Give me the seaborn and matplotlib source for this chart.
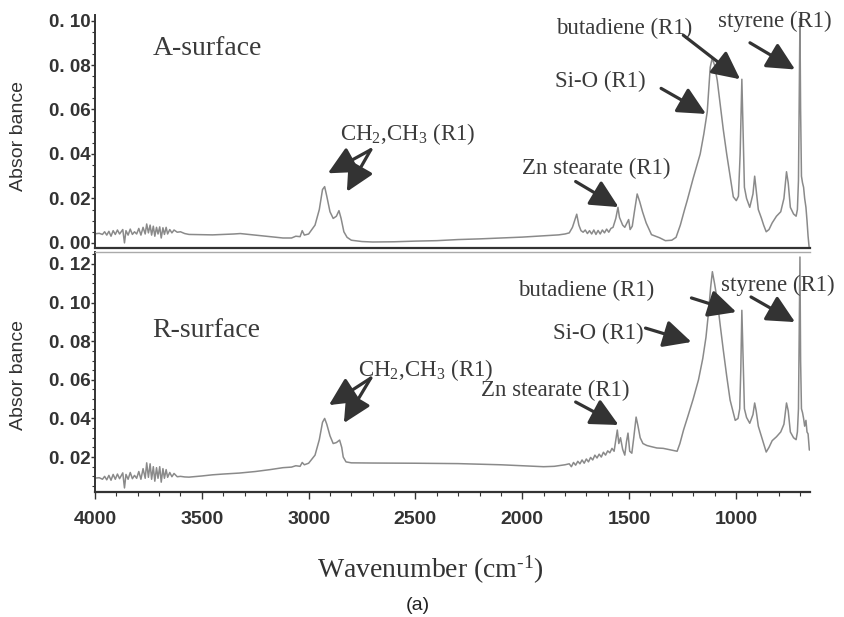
import matplotlib
matplotlib.use("Agg")
import matplotlib.pyplot as plt
import seaborn as sns
import pandas as pd
from matplotlib.ticker import MultipleLocator, FuncFormatter

# ---------------- data ----------------
# (wavenumber cm-1, absorbance) pairs, A-surface
spec_a = [
    (4000, .0041), (3980, .0043), (3965, .0038), (3955, .0050), (3945, .0035), (3935, .0052),
    (3925, .0030), (3915, .0055), (3905, .0038), (3895, .0058), (3885, .0040), (3870, .0060),
    (3862, .0000), (3855, .0055), (3845, .0035), (3835, .0062), (3825, .0038), (3815, .0050),
    (3805, .0040), (3795, .0065), (3785, .0035), (3775, .0070), (3765, .0040), (3758, .0085),
    (3750, .0045), (3742, .0080), (3735, .0035), (3727, .0075), (3720, .0030), (3712, .0070),
    (3705, .0040), (3697, .0072), (3690, .0022), (3682, .0068), (3675, .0038), (3667, .0070),
    (3660, .0040), (3650, .0060), (3640, .0045), (3630, .0058), (3615, .0048), (3600, .0050),
    (3580, .0042), (3560, .0038), (3500, .0037), (3450, .0036), (3400, .0038), (3350, .0040),
    (3320, .0042), (3280, .0038), (3200, .0030), (3120, .0022), (3080, .0022), (3060, .0030),
    (3040, .0028), (3030, .0055), (3020, .0035), (3000, .0040), (2970, .0080), (2950, .0150),
    (2935, .0240), (2925, .0253), (2915, .0210), (2900, .0140), (2885, .0110), (2870, .0120),
    (2858, .0145), (2848, .0110), (2835, .0050), (2820, .0025), (2800, .0012), (2750, .0006),
    (2700, .0004), (2600, .0005), (2500, .0008), (2400, .0010), (2300, .0015), (2200, .0018),
    (2100, .0022), (2000, .0026), (1900, .0032), (1830, .0036), (1800, .0040), (1780, .0045),
    (1765, .0070), (1745, .0129), (1735, .0080), (1725, .0055), (1715, .0048), (1705, .0058),
    (1695, .0042), (1685, .0055), (1675, .0040), (1665, .0058), (1655, .0038), (1645, .0056),
    (1635, .0040), (1625, .0058), (1615, .0045), (1605, .0062), (1595, .0048), (1585, .0065),
    (1575, .0070), (1562, .0110), (1552, .0160), (1545, .0115), (1530, .0080), (1520, .0070),
    (1502, .0105), (1495, .0060), (1485, .0075), (1475, .0140), (1462, .0220), (1450, .0185),
    (1437, .0140), (1420, .0090), (1395, .0037), (1357, .0023), (1330, .0010), (1300, .0012),
    (1280, .0025), (1260, .0080), (1240, .0150), (1228, .0190), (1200, .0290), (1167, .0400),
    (1150, .0490), (1134, .0590), (1120, .0790), (1111, .0830), (1100, .0800), (1087, .0730),
    (1073, .0620), (1059, .0510), (1043, .0400), (1027, .0300), (1012, .0207), (998, .0190),
    (988, .0210), (980, .0400), (972, .0736), (966, .0500), (960, .0250), (950, .0200),
    (935, .0160), (920, .0220), (912, .0300), (905, .0240), (895, .0150), (880, .0110),
    (870, .0080), (858, .0050), (845, .0060), (830, .0090), (810, .0120), (790, .0140),
    (775, .0200), (763, .0320), (755, .0270), (745, .0160), (730, .0130), (718, .0120),
    (712, .0150), (707, .0280), (704, .0600), (700, .1010), (697, .0600), (693, .0300),
    (688, .0270), (683, .0250), (678, .0200), (672, .0160), (667, .0100), (662, .0030),
    (656, -.0030),
]

# (wavenumber cm-1, absorbance) pairs, R-surface
spec_r = [
    (4000, .0091), (3980, .0093), (3965, .0085), (3955, .0100), (3945, .0082), (3935, .0105),
    (3925, .0080), (3915, .0110), (3905, .0085), (3895, .0112), (3885, .0088), (3870, .0118),
    (3862, .0040), (3855, .0110), (3845, .0085), (3835, .0120), (3825, .0088), (3815, .0105),
    (3805, .0090), (3795, .0125), (3785, .0085), (3775, .0140), (3765, .0090), (3758, .0170),
    (3750, .0095), (3742, .0165), (3735, .0085), (3727, .0150), (3720, .0075), (3712, .0145),
    (3705, .0090), (3697, .0150), (3690, .0070), (3682, .0140), (3675, .0090), (3667, .0135),
    (3660, .0095), (3650, .0120), (3640, .0098), (3630, .0115), (3615, .0098), (3600, .0100),
    (3580, .0097), (3560, .0096), (3500, .0102), (3450, .0108), (3400, .0112), (3325, .0117),
    (3250, .0125), (3180, .0135), (3120, .0145), (3080, .0148), (3060, .0155), (3040, .0152),
    (3030, .0172), (3020, .0160), (3000, .0168), (2970, .0210), (2950, .0290), (2935, .0380),
    (2925, .0400), (2915, .0370), (2900, .0310), (2885, .0270), (2870, .0275), (2855, .0288),
    (2845, .0250), (2838, .0200), (2825, .0175), (2800, .0170), (2700, .0169), (2500, .0168),
    (2300, .0166), (2100, .0160), (2000, .0155), (1900, .0150), (1850, .0152), (1800, .0160),
    (1780, .0165), (1770, .0150), (1760, .0172), (1750, .0158), (1740, .0178), (1730, .0165),
    (1720, .0185), (1710, .0168), (1700, .0190), (1690, .0175), (1680, .0198), (1670, .0185),
    (1660, .0210), (1650, .0195), (1640, .0215), (1630, .0200), (1620, .0225), (1610, .0210),
    (1600, .0232), (1590, .0222), (1580, .0245), (1570, .0230), (1562, .0290), (1555, .0340),
    (1548, .0270), (1540, .0300), (1530, .0240), (1520, .0210), (1512, .0280), (1505, .0324),
    (1497, .0230), (1487, .0220), (1478, .0300), (1467, .0407), (1458, .0360), (1448, .0300),
    (1435, .0270), (1417, .0260), (1400, .0255), (1370, .0247), (1340, .0245), (1310, .0238),
    (1275, .0230), (1262, .0270), (1245, .0340), (1225, .0410), (1200, .0500), (1175, .0600),
    (1155, .0710), (1140, .0820), (1128, .0950), (1118, .1080), (1110, .1160), (1100, .1100),
    (1087, .1010), (1073, .0880), (1059, .0755), (1043, .0620), (1027, .0495), (1012, .0430),
    (1003, .0390), (990, .0400), (982, .0450), (977, .0650), (972, .0960), (966, .0700),
    (960, .0450), (950, .0405), (935, .0375), (920, .0420), (912, .0480), (905, .0440),
    (895, .0360), (880, .0305), (870, .0270), (858, .0226), (845, .0250), (830, .0285),
    (810, .0305), (790, .0330), (775, .0370), (763, .0480), (755, .0440), (745, .0330),
    (730, .0300), (718, .0290), (712, .0330), (707, .0450), (704, .0800), (700, .1236),
    (697, .0700), (693, .0450), (688, .0430), (683, .0400), (678, .0360), (672, .0390),
    (667, .0330), (662, .0320), (656, .0236),
]

yticks_a = [0.00, 0.02, 0.04, 0.06, 0.08, 0.10]
yticks_r = [0.02, 0.04, 0.06, 0.08, 0.10, 0.12]
xticks = [4000, 3500, 3000, 2500, 2000, 1500, 1000]

df_a = pd.DataFrame(spec_a, columns=["wn", "abs"])
df_r = pd.DataFrame(spec_r, columns=["wn", "abs"])

# ---------------- style ----------------
sns.set_style("ticks")
plt.rcParams["font.family"] = ["Liberation Sans", "DejaVu Sans"]
plt.rcParams["mathtext.fontset"] = "custom"
plt.rcParams["mathtext.rm"] = "Liberation Serif"
plt.rcParams["mathtext.it"] = "Liberation Serif:italic"

W, H = 845, 617
fig = plt.figure(figsize=(W / 100, H / 100), dpi=100)

def fr(x0, y0, x1, y1):
    return [x0 / W, 1 - y1 / H, (x1 - x0) / W, (y1 - y0) / H]

ax1 = fig.add_axes(fr(95, 15, 810, 248))
ax2 = fig.add_axes(fr(95, 252, 810, 492))

LINE = "#8a8a8a"
DARK = "#333333"
TXT = "#3a3a3a"
serif = ["Liberation Serif", "DejaVu Serif"]

sns.lineplot(data=df_a, x="wn", y="abs", ax=ax1, color=LINE, lw=1.1, estimator=None, sort=False)
sns.lineplot(data=df_r, x="wn", y="abs", ax=ax2, color=LINE, lw=1.1, estimator=None, sort=False)

fmt = FuncFormatter(lambda v, p: f"{v:.2f}".replace(".", ". "))

for ax, yt, ylim in [(ax1, yticks_a, (-0.0023, 0.1025)), (ax2, yticks_r, (0.0019, 0.1262))]:
    ax.set_xlim(4000, 653)
    ax.set_ylim(*ylim)
    ax.set_yticks(yt)
    ax.yaxis.set_minor_locator(MultipleLocator(0.005))
    ax.yaxis.set_major_formatter(fmt)
    ax.set_xlabel("")
    ax.set_ylabel("")
    for s in ["top", "right"]:
        ax.spines[s].set_visible(False)
    ax.spines["left"].set_color(DARK)
    ax.spines["left"].set_linewidth(1.4)
    ax.spines["bottom"].set_color(DARK)
    ax.spines["bottom"].set_linewidth(1.6)
    ax.tick_params(axis="y", which="major", direction="out", length=3, width=1, color=DARK,
                   pad=0, labelsize=13.5, labelcolor=DARK)
    ax.tick_params(axis="y", which="minor", direction="out", length=2, width=0.8, color=DARK)
    for lbl in ax.get_yticklabels():
        lbl.set_fontweight("bold")

ax1.tick_params(axis="x", which="both", bottom=False, labelbottom=False)
ax2.spines["top"].set_visible(True)
ax2.spines["top"].set_color("#aaaaaa")
ax2.spines["top"].set_linestyle((0, (1, 1)))
ax2.spines["top"].set_linewidth(1.0)

ax2.set_xticks(xticks)
ax2.xaxis.set_minor_locator(MultipleLocator(100))
ax2.tick_params(axis="x", which="major", direction="out", length=5, width=1, color=DARK,
                pad=9, labelsize=14, labelcolor=DARK)
ax2.tick_params(axis="x", which="minor", direction="out", length=3, width=0.8, color=DARK)
for lbl in ax2.get_xticklabels():
    lbl.set_fontweight("bold")

# ---------------- annotations ----------------
ARW = dict(arrowstyle="-|>,head_length=0.85,head_width=0.42", lw=2.3, color=DARK,
           mutation_scale=20, shrinkA=0, shrinkB=0)
FS = 16.5

def label(ax, x, y, s, ha="center", size=FS):
    ax.text(x, y, s, ha=ha, va="center", fontsize=size, color=TXT, family=serif)

def arrow(ax, tail, head):
    ax.annotate("", xy=head, xytext=tail, arrowprops=ARW)

# top panel
label(ax1, 3732, 0.0874, "A-surface", ha="left", size=20)
label(ax1, 2535, 0.0488, "CH$_2$,CH$_3$ (R1)")
arrow(ax1, (2709, 0.0419), (2910, 0.0313))
arrow(ax1, (2709, 0.0419), (2821, 0.0230))
label(ax1, 1652, 0.0336, "Zn stearate (R1)")
arrow(ax1, (1750, 0.0276), (1549, 0.0161))
label(ax1, 1633, 0.0727, "Si-O (R1)")
arrow(ax1, (1350, 0.0695), (1140, 0.0580))
label(ax1, 1521, 0.0966, "butadiene (R1)")
arrow(ax1, (1246, 0.0934), (980, 0.0736))
label(ax1, 816, 0.0994, "styrene (R1)")
arrow(ax1, (934, 0.0900), (723, 0.0780))

# bottom panel
label(ax2, 3732, 0.0858, "R-surface", ha="left", size=20)
label(ax2, 2451, 0.0651, "CH$_2$,CH$_3$ (R1)")
arrow(ax2, (2709, 0.0609), (2905, 0.0469))
arrow(ax2, (2709, 0.0609), (2835, 0.0376))
label(ax2, 1844, 0.0547, "Zn stearate (R1)")
arrow(ax2, (1750, 0.0485), (1549, 0.0366))
label(ax2, 1643, 0.0842, "Si-O (R1)")
arrow(ax2, (1423, 0.0868), (1208, 0.0796))
label(ax2, 1703, 0.1065, "butadiene (R1)")
arrow(ax2, (1208, 0.1024), (998, 0.0951))
label(ax2, 802, 0.1091, "styrene (R1)")
arrow(ax2, (929, 0.1029), (723, 0.0899))

# axis titles
fig.text(18.5 / W, 1 - 136 / H, "Absor bance", rotation=90, ha="center", va="center",
         fontsize=14, color=DARK)
fig.text(18.5 / W, 1 - 375 / H, "Absor bance", rotation=90, ha="center", va="center",
         fontsize=14, color=DARK)
fig.text(430 / W, 1 - 570 / H, r"Wavenumber (cm$^{\text{-1}}$)", ha="center", va="center",
         fontsize=20, color=DARK, family=serif)
fig.text(418 / W, 1 - 605 / H, "(a)", ha="center", va="center", fontsize=14, color="#222222")

fig.savefig("out.png", dpi=100)
